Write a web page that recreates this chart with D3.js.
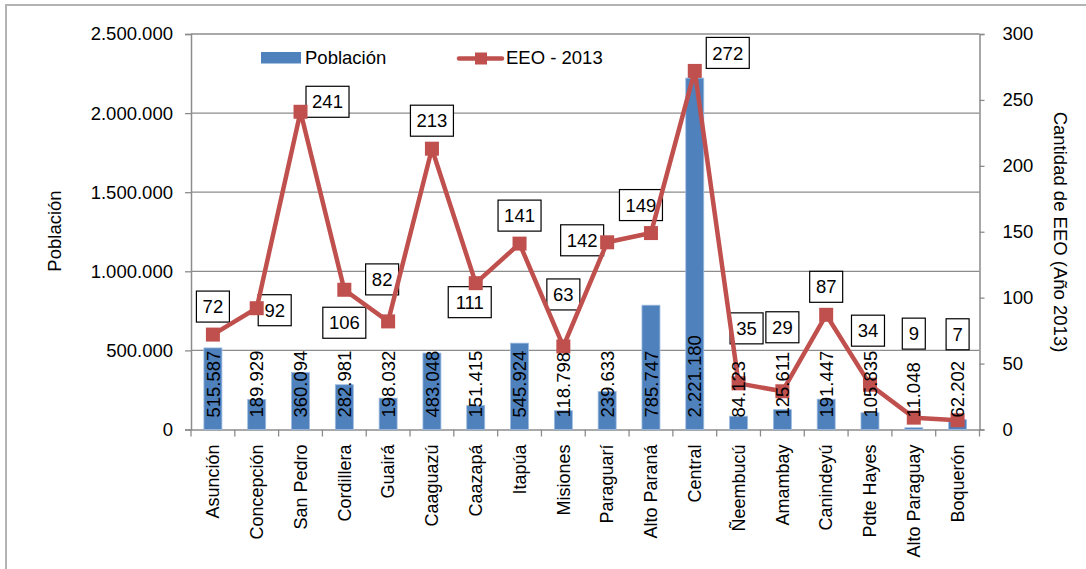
<!DOCTYPE html>
<html>
<head>
<meta charset="utf-8">
<script src="https://cdn.jsdelivr.net/npm/d3@7"></script>
<style>
  body { margin: 0; background: #fff; }
  text { font-family: "Liberation Sans", Arial, sans-serif; fill: #000; }
</style>
</head>
<body>
<div id="chart"></div>
<script>
// departamentos
const departamentos = ["Asunción", "Concepción", "San Pedro", "Cordillera", "Guairá", "Caaguazú",
  "Caazapá", "Itapúa", "Misiones", "Paraguarí", "Alto Paraná", "Central", "Ñeembucú",
  "Amambay", "Canindeyú", "Pdte Hayes", "Alto Paraguay", "Boquerón"]

// población por departamento
const poblacion = [515587, 189929, 360094, 282981, 198032, 483048, 151415, 545924, 118798,
  239633, 785747, 2221180, 84123, 125611, 191447, 105835, 11048, 62202]

// cantidad de EEO 2013
const eeo = [72, 92, 241, 106, 82, 213, 111, 141, 63, 142, 149, 272, 35, 29, 87, 34, 9, 7]

const leftTicks = [0, 500000, 1000000, 1500000, 2000000, 2500000]
const rightTicks = [0, 50, 100, 150, 200, 250, 300]

// desplazamiento de las etiquetas del EEO (px, respecto al punto)
const labelOffset = [[0,-28],[18,2],[27,-10],[0,33],[-6,-42],[0,-28],[-6,19],[0,-28],[0,-52],
  [-25,-2],[-10,-28],[33,-18],[8,-55],[0,-64],[0,-28],[-2,-54],[0,-84],[0,-86]]

const W = 1086, H = 569
const margin = {top: 34, right: 1086 - 979.5, bottom: 569 - 429.5, left: 191}
const width = W - margin.left - margin.right,
      height = H - margin.top - margin.bottom

const fmt = d3.formatLocale({decimal: ",", thousands: ".", grouping: [3], currency: ["", ""]}).format(",d")

const svg = d3.select("#chart").append("svg")
  .attr("width", W).attr("height", H)

// borde exterior
svg.append("rect")
  .attr("x", 6).attr("y", 5).attr("width", W + 20).attr("height", H + 20)
  .attr("fill", "none").attr("stroke", "#b3b3b3").attr("stroke-width", 2)

const g = svg.append("g").attr("transform", `translate(${margin.left},${margin.top})`)

const x = d3.scaleBand().domain(departamentos).range([0, width]).paddingInner(0).paddingOuter(0)
const y = d3.scaleLinear().domain([0, 2500000]).range([height, 0])
const y2 = d3.scaleLinear().domain([0, 300]).range([height, 0])

// grid
g.append("g").selectAll("line").data(leftTicks.slice(1)).join("line")
  .attr("x1", 0).attr("x2", width)
  .attr("y1", d => y(d)).attr("y2", d => y(d))
  .attr("stroke", "#8c8c8c").attr("stroke-width", 1.3)

// left axis
const axL = g.append("g")
  .call(d3.axisLeft(y).tickValues(leftTicks).tickFormat(fmt).tickSize(6).tickPadding(12))
axL.selectAll("text").style("font-size", "18.5px")

// right axis
const axR = g.append("g").attr("transform", `translate(${width},0)`)
  .call(d3.axisRight(y2).tickValues(rightTicks).tickSize(5).tickPadding(18))
axR.selectAll("text").style("font-size", "18.5px")

// bottom axis
const axB = g.append("g").attr("transform", `translate(0,${height})`)
  .call(d3.axisBottom(x).tickSize(0).tickFormat(""))
axB.selectAll(".tick").remove()
axB.selectAll("g.tk").data(d3.range(departamentos.length + 1)).join("line")
  .attr("x1", d => d * x.step()).attr("x2", d => d * x.step())
  .attr("y1", 0).attr("y2", 7)
  .attr("stroke", "#8c8c8c").attr("stroke-width", 1.3)

;[axL, axR, axB].forEach(a => {
  a.selectAll(".domain").attr("stroke", "#8c8c8c").attr("stroke-width", 1.5)
  a.selectAll(".tick line").attr("stroke", "#8c8c8c").attr("stroke-width", 1.3)
})

// category labels
g.append("g").selectAll("text").data(departamentos).join("text")
  .attr("transform", d => `translate(${x(d) + x.bandwidth() / 2},${height + 15}) rotate(-90)`)
  .attr("text-anchor", "end").attr("dy", "0.35em")
  .style("font-size", "18px")
  .text(d => d)

// bars
const bw = 18
g.append("g").selectAll("rect").data(poblacion).join("rect")
  .attr("x", (d, i) => x(departamentos[i]) + x.bandwidth() / 2 - bw / 2)
  .attr("width", bw)
  .attr("y", d => y(d))
  .attr("height", d => height - y(d))
  .attr("fill", "#4f81bd")
  .attr("stroke", "#9dbbe0").attr("stroke-width", 0.8)

const px = i => x(departamentos[i]) + x.bandwidth() / 2

// EEO labels (boxes)
const lab = g.append("g").selectAll("g").data(eeo).join("g")
  .attr("transform", (d, i) => `translate(${px(i) + labelOffset[i][0]},${y2(d) + labelOffset[i][1]})`)
lab.append("rect")
  .attr("x", d => -(String(d).length * 10 + 13) / 2)
  .attr("width", d => String(d).length * 10 + 13)
  .attr("y", -15.5).attr("height", 31)
  .attr("fill", "#fff").attr("stroke", "#000").attr("stroke-width", 1.2)
lab.append("text")
  .attr("text-anchor", "middle").attr("dy", "0.36em")
  .style("font-size", "18.5px")
  .text(d => d)

// line
g.append("path")
  .datum(eeo)
  .attr("fill", "none")
  .attr("stroke", "#c0504d").attr("stroke-width", 4.5).attr("stroke-linejoin", "round")
  .attr("d", d3.line().x((d, i) => px(i)).y(d => y2(d)))

const ms = 14
g.append("g").selectAll("rect").data(eeo).join("rect")
  .attr("x", (d, i) => px(i) - ms / 2).attr("y", d => y2(d) - ms / 2)
  .attr("width", ms).attr("height", ms)
  .attr("fill", "#c0504d")

// bar labels
g.append("g").selectAll("text").data(poblacion).join("text")
  .attr("transform", (d, i) => `translate(${px(i)},${height - 12}) rotate(-90)`)
  .attr("text-anchor", "start").attr("dy", "0.36em")
  .style("font-size", "18.5px")
  .text(d => fmt(d))

// axis titles
svg.append("text")
  .attr("transform", "translate(55,231) rotate(-90)")
  .attr("text-anchor", "middle").attr("dy", "0.35em")
  .style("font-size", "18.5px").text("Población")
svg.append("text")
  .attr("transform", "translate(1060,232) rotate(90)")
  .attr("text-anchor", "middle").attr("dy", "0.35em")
  .style("font-size", "18.5px").text("Cantidad de EEO (Año 2013)")

// legend
svg.append("rect").attr("x", 261).attr("y", 52).attr("width", 40).attr("height", 11.5).attr("fill", "#4f81bd")
svg.append("text").attr("x", 305).attr("y", 64).style("font-size", "18.5px").text("Población")
svg.append("line").attr("x1", 459).attr("x2", 502).attr("y1", 58.5).attr("y2", 58.5)
  .attr("stroke", "#c0504d").attr("stroke-width", 4.5).attr("stroke-linecap", "round")
svg.append("rect").attr("x", 475).attr("y", 52.5).attr("width", 12).attr("height", 12).attr("fill", "#c0504d")
svg.append("text").attr("x", 506).attr("y", 64).style("font-size", "18.5px").text("EEO - 2013")
</script>
</body>
</html>
